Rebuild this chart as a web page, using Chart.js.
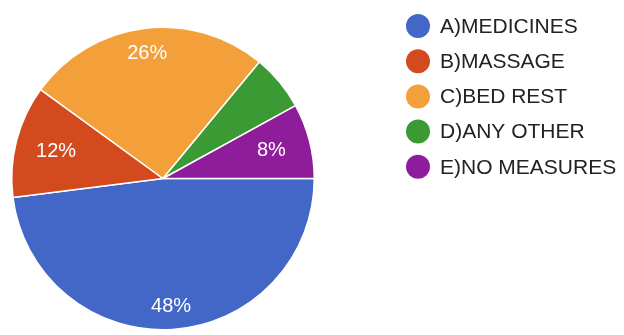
<!DOCTYPE html>
<html>
<head>
<meta charset="utf-8">
<script src="https://cdn.jsdelivr.net/npm/chart.js@4"></script>
<style>
  html, body { margin: 0; padding: 0; background: #fff; }
  #wrap { width: 624px; height: 335px; }
</style>
</head>
<body>
<div id="wrap"><canvas id="pieChart" width="624" height="335"></canvas></div>
<script>
// data
const categories = ['A)MEDICINES', 'B)MASSAGE', 'C)BED REST', 'D)ANY OTHER', 'E)NO MEASURES'];
const shares = [48, 12, 26, 6, 8];
const sliceColors = ['#4267c6', '#d44a1f', '#f3a03b', '#3c9a34', '#8f1c9b'];

// labels inside slices (google hides the tiny green one)
const sliceLabels = {
  id: 'sliceLabels',
  afterDatasetsDraw(chart) {
    const { ctx } = chart;
    const meta = chart.getDatasetMeta(0);
    const factor = [0.85, 0.73, 0.83, 0, 0.74];
    ctx.save();
    ctx.font = '20px "Liberation Sans", Arial, sans-serif';
    ctx.fillStyle = '#ffffff';
    ctx.textAlign = 'center';
    ctx.textBaseline = 'middle';
    meta.data.forEach((arc, i) => {
      if (!factor[i]) return;
      const mid = (arc.startAngle + arc.endAngle) / 2;
      const r = arc.outerRadius * factor[i];
      ctx.fillText(shares[i] + '%', arc.x + Math.cos(mid) * r, arc.y + Math.sin(mid) * r);
    });
    ctx.restore();
  }
};

// legend drawn on the right, round markers
const sideLegend = {
  id: 'sideLegend',
  afterDraw(chart) {
    const { ctx } = chart;
    ctx.save();
    ctx.font = '21px "Liberation Sans", Arial, sans-serif';
    ctx.textBaseline = 'middle';
    chart.data.labels.forEach((lab, i) => {
      const y = 26 + i * 35.2;
      ctx.beginPath();
      ctx.arc(418, y, 12, 0, Math.PI * 2);
      ctx.fillStyle = sliceColors[i];
      ctx.fill();
      ctx.fillStyle = '#222222';
      ctx.fillText(lab, 440, y + 1);
    });
    ctx.restore();
  }
};

new Chart(document.getElementById('pieChart'), {
  type: 'pie',
  data: {
    labels: categories,
    datasets: [{
      data: shares,
      backgroundColor: sliceColors,
      borderColor: '#ffffff',
      borderWidth: 1.5
    }]
  },
  options: {
    responsive: false,
    animation: false,
    rotation: 90,
    layout: { padding: { left: 11, top: 26, right: 309, bottom: 4 } },
    plugins: {
      legend: { display: false },
      tooltip: { enabled: false }
    }
  },
  plugins: [sliceLabels, sideLegend]
});
</script>
</body>
</html>
